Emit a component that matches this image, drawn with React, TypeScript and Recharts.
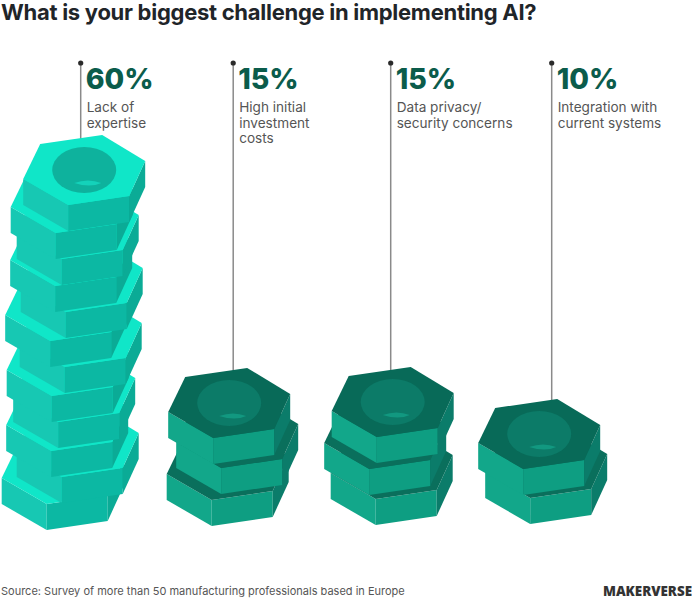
import { BarChart, Bar, XAxis, YAxis } from "recharts";

const categories = [
  ["Lack of", "expertise"],
  ["High initial", "investment", "costs"],
  ["Data privacy/", "security concerns"],
  ["Integration with", "current systems"],
];
const shares = [60, 15, 15, 10];
const percentPerNut = 5;

const tableRows = categories.map((lines, i) => ({
  name: lines.join(" "),
  share: shares[i],
}));

// hand placed wobble of each nut in a pile, top nut first: [dx, dy]
const wobble = [
  [[5.5, 0], [-7, 1], [-1, 0], [-7.5, 0], [3, -1], [-12.5, 1], [2, 0], [-11, 2], [-4.5, 1], [-11.5, 3], [-1, 2], [-16, 2]],
  [[-6.5, -10], [1.5, -7], [-8, -2]],
  [[0, -11], [-7.5, -6], [-1, -3]],
  [[-10.5, -6], [-3.5, -4]],
];
const leaderShift = [2, -2.5, -2, 2];

const bright = { top: "#10e6c8", left: "#17c8b3", mid: "#0cb8a3", right: "#0bab96", hole: "#0eb29d", glint: "#14d2ba" };
const deep = { top: "#0a6f5c", left: "#12a78a", mid: "#0e9e82", right: "#0b7c6a", hole: "#0c7b68", glint: "#129880" };
const deepCap = "#086a58";

const HEX = {
  a: [-44, -26],
  b: [18, -35],
  c: [61, -9],
  d: [45, 26],
  e: [-16, 35],
  f: [-61, 9],
};
const THICK = 26;

function poly(cx: number, cy: number, pts: number[][], drop: number[] = []) {
  return pts
    .map((p, i) => `${cx + p[0]},${cy + p[1] + (drop[i] || 0)}`)
    .join(" ");
}

function Nut({ cx, cy, look, capFill, hole }: any) {
  const { a, b, c, d, e, f } = HEX;
  return (
    <g>
      <polygon points={poly(cx, cy, [f, e, e, f], [0, 0, THICK, THICK])} fill={look.left} />
      <polygon points={poly(cx, cy, [e, d, d, e], [0, 0, THICK, THICK])} fill={look.mid} />
      <polygon points={poly(cx, cy, [d, c, c, d], [0, 0, THICK, THICK])} fill={look.right} />
      <polygon points={poly(cx, cy, [a, b, c, d, e, f])} fill={capFill} />
      {hole && (
        <g>
          <ellipse cx={cx} cy={cy} rx={32} ry={23} fill={look.hole} />
          <path
            d={`M${cx - 10} ${cy + 13} Q${cx + 4} ${cy + 8} ${cx + 17} ${cy + 13} Q${cx + 6} ${cy + 18} ${cx - 10} ${cy + 13}Z`}
            fill={look.glint}
          />
        </g>
      )}
    </g>
  );
}

function NutPile(props: any) {
  const { x, y, width, height, index, payload } = props;
  const count = payload.share / percentPerNut;
  const pitch = height / count;
  const middle = x + width / 2;
  const bottom = y + height;
  const look = index === 0 ? bright : deep;
  const slot = (k: number) => bottom - 61 - (count - 1 - k) * pitch;
  const lineX = middle + leaderShift[index];
  const textX = lineX + 6;
  const order = Array.from({ length: count }, (_, k) => count - 1 - k);
  return (
    <g>
      <line x1={lineX} y1={63} x2={lineX} y2={slot(0)} stroke="#8a8a8a" strokeWidth={1.5} />
      <circle cx={lineX} cy={63} r={2.6} fill="#2a2a2a" />
      <text x={textX - 1} y={89} fontSize={28.5} fontWeight={800} fill="#0b5c4b" fontFamily="Inter">
        {payload.share}%
      </text>
      <text fontSize={13.6} fill="#555555" fontFamily="Inter">
        {categories[index].map((line, i) => (
          <tspan key={line} x={textX} y={112 + i * 15.5}>
            {line}
          </tspan>
        ))}
      </text>
      {order.map((k) => (
        <Nut
          key={k}
          cx={middle + wobble[index][k][0]}
          cy={slot(k) + wobble[index][k][1]}
          look={look}
          capFill={k === 0 && index > 0 ? deepCap : look.top}
          hole={k === 0}
        />
      ))}
    </g>
  );
}

export default function App() {
  return (
    <div style={{ position: "absolute", left: 0, top: 0, width: 692, height: 600, background: "#fff", overflow: "hidden" }}>
      <div style={{ position: "absolute", left: 1, top: 1, fontFamily: "Inter", fontWeight: 700, fontSize: 22, lineHeight: "22px", letterSpacing: -0.28, color: "#1f2529", whiteSpace: "nowrap" }}>
        What is your biggest challenge in implementing AI?
      </div>
      <BarChart
        width={692}
        height={600}
        data={tableRows}
        margin={{ top: 204, right: 64, bottom: 72, left: 0 }}
      >
        <XAxis dataKey="name" hide />
        <YAxis hide domain={[0, 60]} />
        <Bar dataKey="share" shape={NutPile} isAnimationActive={false} />
      </BarChart>
      <div style={{ position: "absolute", left: 1, top: 584, fontFamily: "Inter", fontSize: 11, color: "#555", whiteSpace: "nowrap" }}>
        Source: Survey of more than 50 manufacturing professionals based in Europe
      </div>
      <div style={{ position: "absolute", right: 0, top: 582, fontFamily: "Open Sans", fontWeight: 800, fontSize: 13.4, color: "#333", whiteSpace: "nowrap" }}>
        MAKERVERSE
      </div>
    </div>
  );
}
